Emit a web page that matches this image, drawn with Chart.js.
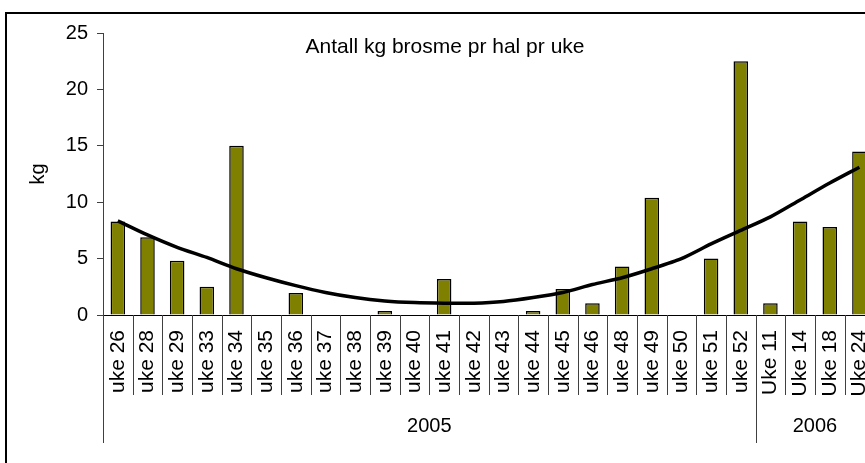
<!DOCTYPE html>
<html>
<head>
<meta charset="utf-8">
<script src="https://cdn.jsdelivr.net/npm/chart.js@4.4.1/dist/chart.umd.min.js"></script>
<style>
  html, body { margin: 0; padding: 0; background: #fff; overflow: hidden; width: 865px; height: 463px; }
  #wrap { position: absolute; left: 0; top: 0; width: 900px; height: 463px; }
</style>
</head>
<body>
<div id="wrap"><canvas id="c"></canvas></div>
<script>
// ---- data ----
const categories = ['uke 26','uke 28','uke 29','uke 33','uke 34','uke 35','uke 36','uke 37','uke 38','uke 39','uke 40',
  'uke 41','uke 42','uke 43','uke 44','uke 45','uke 46','uke 48','uke 49','uke 50','uke 51','uke 52',
  'Uke 11','Uke 14','Uke 18','Uke 24'];
const kgValues = [8.3, 6.9, 4.8, 2.5, 15.0, 0, 1.95, 0, 0, 0.35, 0,
  3.2, 0, 0, 0.35, 2.3, 1.05, 4.3, 10.4, 0, 5.0, 22.5,
  1.05, 8.3, 7.8, 14.5];
const trendValues = [8.35, 7.1, 6.0, 5.1, 4.1, 3.3, 2.6, 2.0, 1.55, 1.25, 1.1,
  1.05, 1.05, 1.2, 1.55, 2.0, 2.7, 3.3, 4.1, 5.0, 6.3, 7.5,
  8.7, 10.2, 11.7, 13.1];
const groups = [ { label: '2005', count: 22 }, { label: '2006', count: 4 } ];
const yTicks = [0, 5, 10, 15, 20, 25];
const yAxisTitle = 'kg';
const innerTitle = 'Antall kg brosme pr hal pr uke';

const FONT = '"Liberation Sans", Arial, sans-serif';
const AXIS_COLOR = '#404040';

const decorPlugin = {
  id: 'decor',
  beforeDraw(chart) {
    const ctx = chart.ctx;
    ctx.save();
    ctx.strokeStyle = '#000';
    ctx.lineWidth = 2;
    ctx.strokeRect(6, 13, 2000, 2000);
    ctx.restore();
  },
  afterDraw(chart) {
    const ctx = chart.ctx;
    const x = chart.scales.x;
    const area = chart.chartArea;
    const w = x.getPixelForValue(1) - x.getPixelForValue(0);
    ctx.save();
    ctx.strokeStyle = AXIS_COLOR;
    ctx.lineWidth = 1;
    for (let i = 0; i <= categories.length; i++) {
      const px = Math.round(x.getPixelForValue(i) - w / 2) + 0.5;
      ctx.beginPath();
      ctx.moveTo(px, area.bottom);
      ctx.lineTo(px, area.bottom + 80);
      ctx.stroke();
    }
    let start = 0;
    ctx.fillStyle = '#000';
    ctx.font = '20px ' + FONT;
    ctx.textAlign = 'center';
    ctx.textBaseline = 'middle';
    groups.forEach(g => {
      const left = x.getPixelForValue(start) - w / 2;
      const right = x.getPixelForValue(start + g.count - 1) + w / 2;
      const pl = Math.round(left) + 0.5;
      ctx.beginPath();
      ctx.moveTo(pl, area.bottom);
      ctx.lineTo(pl, area.bottom + 128);
      ctx.stroke();
      ctx.fillText(g.label, (left + right) / 2, area.bottom + 111);
      start += g.count;
    });
    ctx.font = '21px ' + FONT;
    ctx.fillText(innerTitle, 445, 47);
    ctx.restore();
  }
};

new Chart(document.getElementById('c'), {
  data: {
    labels: categories,
    datasets: [
      {
        type: 'line',
        label: 'Trend',
        data: trendValues,
        borderColor: '#000',
        borderWidth: 3.5,
        pointRadius: 0,
        tension: 0.25,
        fill: false,
        order: 0
      },
      {
        type: 'bar',
        label: 'kg',
        data: kgValues,
        backgroundColor: '#808000',
        borderColor: '#000',
        borderWidth: 1.5,
        categoryPercentage: 1,
        barPercentage: 0.49,
        order: 1
      }
    ]
  },
  options: {
    responsive: true,
    maintainAspectRatio: false,
    animation: false,
    devicePixelRatio: 1,
    layout: { padding: { left: 0, right: 20, top: 33, bottom: 0 } },
    plugins: { legend: { display: false }, tooltip: { enabled: false } },
    scales: {
      x: {
        type: 'category',
        offset: true,
        grid: { display: true, drawOnChartArea: false, drawTicks: false, offset: true, color: 'rgba(0,0,0,0)' },
        border: { display: true, color: '#000', width: 1 },
        ticks: {
          autoSkip: false, minRotation: 90, maxRotation: 90, padding: 15,
          color: '#000', font: { family: FONT, size: 21 }
        },
        afterFit(s) { s.height = 148; }
      },
      y: {
        min: 0, max: 25,
        afterBuildTicks(s) { s.ticks = yTicks.map(v => ({ value: v })); },
        grid: { drawOnChartArea: false, drawTicks: true, tickLength: 6, color: AXIS_COLOR },
        border: { display: true, color: AXIS_COLOR, width: 1 },
        ticks: { padding: 9, color: '#000', font: { family: FONT, size: 20 } },
        title: { display: true, text: yAxisTitle, color: '#000', font: { family: FONT, size: 20 }, padding: { top: 26, bottom: 0 } },
        afterFit(s) { s.width = 103; }
      }
    }
  },
  plugins: [decorPlugin]
});
</script>
</body>
</html>
